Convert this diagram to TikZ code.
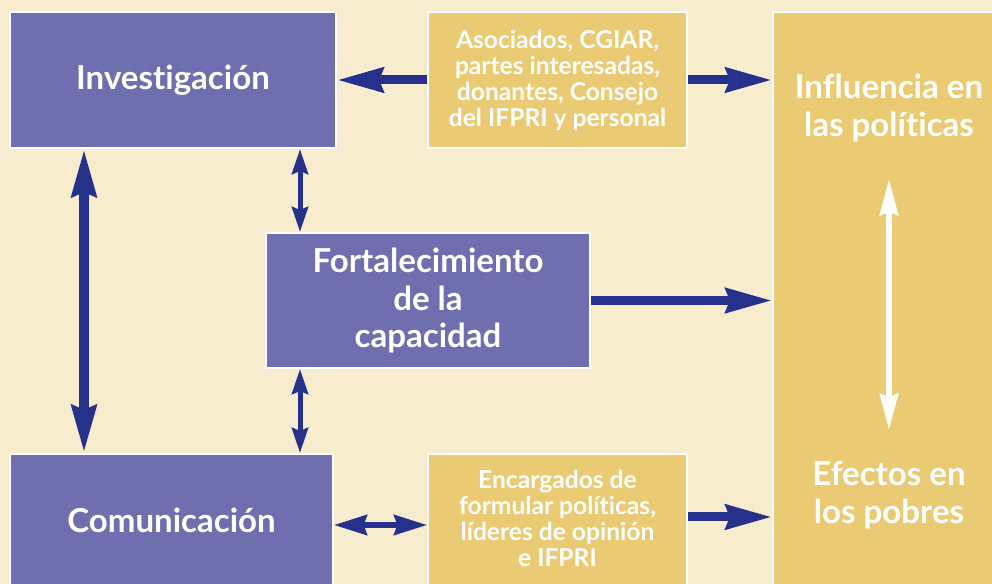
\documentclass[tikz,border=0pt]{standalone}
\usepackage{fontspec}
\setmainfont[Ligatures=NoCommon]{Lato}
\usetikzlibrary{arrows.meta,calc}

\definecolor{bgcream}{HTML}{F7ECCD}
\definecolor{boxpurple}{HTML}{6F6EAE}
\definecolor{boxgold}{HTML}{EACB74}
\definecolor{arrownavy}{HTML}{25318A}

\begin{document}
\begin{tikzpicture}[
  x=0.02cm, y=-0.02cm,  % one unit = one pixel of the layout, y downwards
  box/.style={draw=white, line width=0.04cm, inner sep=0pt, align=center,
    text=white, font=\bfseries\fontsize{18.8}{21.3}\selectfont},
  purplebox/.style={box, fill=boxpurple},
  goldbox/.style={box, fill=boxgold},
  smalltext/.style={font=\bfseries\fontsize{14}{14.8}\selectfont},
  bigtext/.style={text=white, align=center, inner sep=0pt,
    font=\bfseries\fontsize{18.8}{21.3}\selectfont},
  bigarrow/.style={draw=arrownavy, line width=0.18cm,
    -{Stealth[length=0.92cm,width=0.48cm,inset=0.08cm]}},
  bigboth/.style={draw=arrownavy, line width=0.2cm,
    {Stealth[length=0.94cm,width=0.48cm,inset=0.08cm]}-{Stealth[length=0.94cm,width=0.48cm,inset=0.08cm]}},
  smallboth/.style={draw=arrownavy, line width=0.1cm,
    {Stealth[length=0.5cm,width=0.32cm,inset=0.06cm]}-{Stealth[length=0.5cm,width=0.32cm,inset=0.06cm]}},
  midboth/.style={draw=arrownavy, line width=0.11cm,
    {Stealth[length=0.66cm,width=0.4cm,inset=0.07cm]}-{Stealth[length=0.66cm,width=0.4cm,inset=0.07cm]}},
  whiteboth/.style={draw=white, line width=0.12cm,
    {Stealth[length=0.72cm,width=0.36cm,inset=0.06cm]}-{Stealth[length=0.72cm,width=0.36cm,inset=0.06cm]}}
]

% ---------------- Canvas ----------------
\useasboundingbox (0,0) rectangle (992,584);
\fill[bgcream] (0,0) rectangle (992,584);
\clip (0,0) rectangle (992,584);

% ---------------- Boxes ----------------
\node[purplebox, minimum width=6.52cm, minimum height=2.72cm] (inv) at (173,80) {Investigación};
\node[goldbox, smalltext, minimum width=5.18cm, minimum height=2.72cm] (asoc) at (557.5,80)
  {Asociados, CGIAR,\\partes interesadas,\\donantes, Consejo\\del IFPRI y personal};
\node[purplebox, minimum width=6.48cm, minimum height=2.7cm] (fort) at (428,300.5)
  {Fortalecimiento\\de la\\capacidad};
\node[purplebox, minimum width=6.46cm, minimum height=2.72cm] (com) at (171.5,522)
  {\raisebox{0.08cm}{Comunicación}};
\node[goldbox, smalltext, minimum width=5.18cm, minimum height=2.72cm] (enc) at (557.5,522)
  {\raisebox{0.08cm}{\begin{tabular}{@{}c@{}}Encargados de\\formular políticas,\\líderes de opinión\\e IFPRI\end{tabular}}};

% Outcome column (runs off the right and bottom edges)
\node[goldbox, minimum width=4.44cm, minimum height=11.52cm] (infl) at (884,300) {};
\node[bigtext] (inflt) at (889,108) {Influencia en\\las políticas};
\node[bigtext] (efec) at (889,495) {Efectos en\\los pobres};

% ---------------- Guides for the connectors ----------------
\coordinate (xl) at (84,0);
\coordinate (xm) at (300,0);
\coordinate (yb) at (0,517);
\coordinate (yc) at (0,525);
\coordinate (wtop) at (889,179);
\coordinate (wbot) at (889,430);

% ---------------- Connectors ----------------
\draw[bigarrow] (asoc) -- (inv);
\draw[bigarrow] (asoc) -- (asoc -| infl.west);
\draw[bigarrow] (fort) -- (fort -| infl.west);
\draw[bigarrow] (enc.east |- yb) -- (infl.west |- yb);

\draw[bigboth] (inv.south -| xl) -- (com.north -| xl);
\draw[smallboth] (inv.south -| xm) -- (fort.north -| xm);
\draw[smallboth] (fort.south -| xm) -- (com.north -| xm);
\draw[midboth] (com.east |- yc) -- (enc.west |- yc);

\draw[whiteboth] (wtop) -- (wbot);

\end{tikzpicture}
\end{document}
